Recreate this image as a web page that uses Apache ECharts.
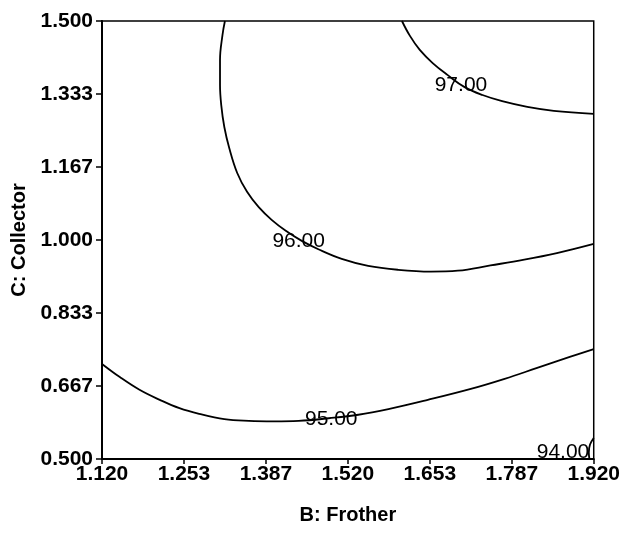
<!DOCTYPE html>
<html>
<head>
<meta charset="utf-8">
<script src="https://cdn.jsdelivr.net/npm/echarts@6/dist/echarts.min.js"></script>
<style>
html,body{margin:0;padding:0;background:#fff;}
#chart{width:623px;height:533px;}
</style>
</head>
<body>
<div id="chart"></div>
<script>
// Axis ticks
const xTickValues = [1.12, 1.2533, 1.3867, 1.52, 1.6533, 1.7867, 1.92];
const xTickLabels = ['1.120', '1.253', '1.387', '1.520', '1.653', '1.787', '1.920'];
const yTickValues = [0.5, 0.6667, 0.8333, 1.0, 1.1667, 1.3333, 1.5];
const yTickLabels = ['0.500', '0.667', '0.833', '1.000', '1.167', '1.333', '1.500'];

// Contour 97.00
const c97x = [1.608, 1.621, 1.637, 1.658, 1.682, 1.710, 1.739, 1.771, 1.812, 1.855, 1.920];
const c97y = [1.500, 1.466, 1.434, 1.404, 1.377, 1.349, 1.331, 1.317, 1.304, 1.295, 1.288];
// Contour 96.00
const c96x = [1.320, 1.316, 1.312, 1.312, 1.314, 1.319, 1.327, 1.340, 1.356, 1.375, 1.396, 1.419, 1.445, 1.472, 1.510, 1.553, 1.602, 1.655, 1.699, 1.752, 1.807, 1.860, 1.920];
const c96y = [1.500, 1.468, 1.411, 1.354, 1.308, 1.258, 1.210, 1.153, 1.110, 1.075, 1.046, 1.021, 0.998, 0.979, 0.957, 0.941, 0.932, 0.928, 0.930, 0.942, 0.955, 0.970, 0.991];
// Contour 95.00
const c95x = [1.120, 1.149, 1.181, 1.214, 1.246, 1.278, 1.319, 1.359, 1.400, 1.440, 1.489, 1.537, 1.586, 1.650, 1.720, 1.775, 1.828, 1.881, 1.920];
const c95y = [0.717, 0.687, 0.658, 0.635, 0.616, 0.603, 0.591, 0.587, 0.586, 0.587, 0.593, 0.601, 0.614, 0.635, 0.660, 0.683, 0.708, 0.733, 0.751];
// Contour 94.00
const c94x = [1.920, 1.914, 1.912, 1.913];
const c94y = [0.548, 0.533, 0.515, 0.500];

// Contour labels
const labelText = ['97.00', '96.00', '95.00', '94.00'];
const labelX = [1.704, 1.440, 1.493, 1.870];
const labelY = [1.353, 0.997, 0.592, 0.516];

const zip = (xs, ys) => xs.map((v, i) => [v, ys[i]]);
const FONT = '"Liberation Sans", Arial, Helvetica, sans-serif';

const lineSeries = (xs, ys) => ({
  type: 'line',
  data: zip(xs, ys),
  smooth: 0.4,
  showSymbol: false,
  symbol: 'none',
  silent: true,
  lineStyle: { color: '#000', width: 1.8 },
  z: 2
});

const chart = echarts.init(document.getElementById('chart'), null, { renderer: 'canvas' });
chart.setOption({
  animation: false,
  backgroundColor: '#fff',
  grid: {
    left: 102, top: 21, width: 495, height: 438,
    show: true, borderColor: '#000', borderWidth: 1.5, backgroundColor: 'transparent'
  },
  xAxis: {
    type: 'value', min: 1.12, max: 1.92,
    name: 'B: Frother', nameLocation: 'middle', nameGap: 46,
    nameTextStyle: { fontFamily: FONT, fontSize: 20, fontWeight: 'bold', color: '#000' },
    axisLine: { show: true, lineStyle: { color: '#000', width: 2 } },
    axisTick: { show: true, customValues: xTickValues, length: 5, lineStyle: { color: '#000', width: 1.5 } },
    axisLabel: {
      customValues: xTickValues, margin: 5,
      fontFamily: FONT, fontSize: 21, fontWeight: 'bold', color: '#000',
      formatter: (v) => { const i = xTickValues.findIndex(t => Math.abs(t - v) < 1e-3); return i >= 0 ? xTickLabels[i] : ''; }
    },
    splitLine: { show: false }
  },
  yAxis: {
    type: 'value', min: 0.5, max: 1.5,
    name: 'C: Collector', nameLocation: 'middle', nameGap: 65, nameRotate: 90,
    nameTextStyle: { fontFamily: FONT, fontSize: 20, fontWeight: 'bold', color: '#000' },
    axisLine: { show: true, lineStyle: { color: '#000', width: 2 } },
    axisTick: { show: true, customValues: yTickValues, length: 6, lineStyle: { color: '#000', width: 1.5 } },
    axisLabel: {
      customValues: yTickValues, margin: 9,
      fontFamily: FONT, fontSize: 21, fontWeight: 'bold', color: '#000',
      formatter: (v) => { const i = yTickValues.findIndex(t => Math.abs(t - v) < 1e-3); return i >= 0 ? yTickLabels[i] : ''; }
    },
    splitLine: { show: false }
  },
  series: [
    lineSeries(c97x, c97y),
    lineSeries(c96x, c96y),
    lineSeries(c95x, c95y),
    lineSeries(c94x, c94y),
    {
      type: 'scatter',
      symbolSize: 0,
      silent: true,
      z: 5,
      itemStyle: { opacity: 1 },
      data: labelText.map((t, i) => ({ value: [labelX[i], labelY[i]], name: t })),
      label: {
        show: true, position: 'inside', opacity: 1,
        formatter: (p) => p.name,
        fontFamily: FONT, fontSize: 21, color: '#000'
      }
    }
  ]
});
</script>
</body>
</html>
